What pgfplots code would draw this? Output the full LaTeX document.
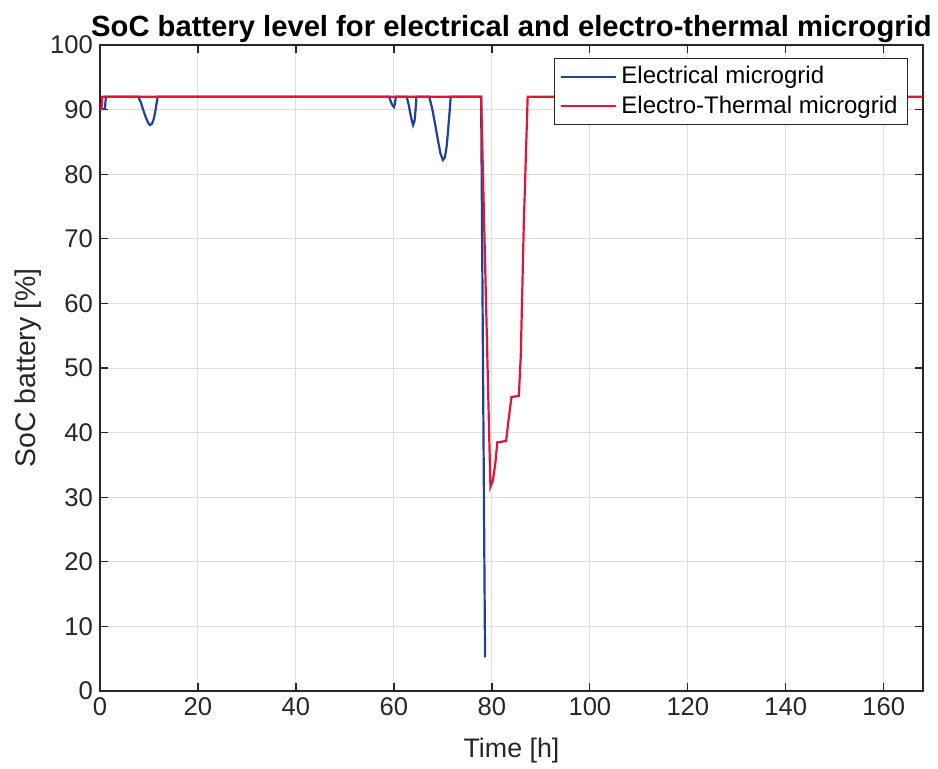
\documentclass[border=0pt]{standalone}
\usepackage{fontspec}
\setmainfont{Liberation Sans}
\usepackage{pgfplots}
\pgfplotsset{compat=1.18}

\definecolor{elecblue}{RGB}{33,64,154}
\definecolor{thermred}{RGB}{226,20,56}
\definecolor{axisgray}{RGB}{38,38,38}
\definecolor{gridgray}{RGB}{222,222,222}

\begin{document}
\begin{tikzpicture}
\useasboundingbox (-50pt,-38.5pt) rectangle (419pt,345.5pt);
\begin{axis}[
  at={(0,0)}, anchor=south west,
  scale only axis,
  width=411.5pt, height=323pt,
  xmin=0, xmax=168, ymin=0, ymax=100,
  xtick={0,20,...,160}, ytick={0,10,...,100},
  grid=major,
  major grid style={gridgray, line width=0.5pt},
  axis line style={axisgray, line width=0.6pt},
  tick style={axisgray, line width=0.6pt},
  tick align=inside,
  major tick length=4pt,
  /pgf/number format/assume math mode=true,
  ticklabel style={font=\fontsize{12.8}{15}\selectfont, text=axisgray},
  xlabel={Time [h]}, ylabel={SoC battery [\%]},
  xlabel style={font=\fontsize{13.4}{16}\selectfont, text=axisgray, yshift=-4pt},
  ylabel style={font=\fontsize{14.2}{16}\selectfont, text=axisgray, yshift=-2.5pt},
  title={SoC battery level for electrical and electro-thermal microgrid},
  title style={font=\bfseries\fontsize{14.6}{17}\selectfont, yshift=-8.5pt},
  legend style={at={(1,1)}, anchor=north east, xshift=-7.5pt, yshift=-6.5pt,
    font=\fontsize{12}{14}\selectfont, draw=axisgray, line width=0.5pt,
    inner xsep=3pt, inner ysep=2pt, row sep=0.5pt},
  legend cell align=left,
  legend image code/.code={\draw[#1] (0cm,0cm) -- (0.97cm,0cm);},
]
% Electrical microgrid
\addplot[elecblue, line width=1.1pt] coordinates {
  (0,90.1) (1.0,90.1) (1.2,92) (7.8,92)
  (8.3,91.2) (8.8,90.0) (9.3,88.9) (9.8,88.0) (10.2,87.6) (10.6,87.8)
  (11.0,88.6) (11.3,89.8) (11.6,91.2) (11.8,92)
  (59.0,92) (59.3,91.4) (59.6,90.8) (60.0,90.4) (60.2,90.9) (60.4,92)
  (62.6,92) (63.0,90.8) (63.5,88.8) (63.9,87.6) (64.2,88.2) (64.4,89.8) (64.6,92)
  (67.2,92) (67.8,90.2) (68.4,87.8) (69.0,85.2) (69.5,83.2) (70.0,82.2)
  (70.4,82.6) (70.8,84.5) (71.1,87.2) (71.4,90.0) (71.6,92)
  (77.8,92) (78.6,5.2)
};
\addlegendentry{Electrical microgrid}
% Electro-thermal microgrid
\addplot[thermred, line width=1.1pt] coordinates {
  (0,90.1) (0.3,90.1) (0.47,92) (77.8,92) (79.7,31.6) (80.2,32.6) (80.7,35.2)
  (81.1,38.5) (82.9,38.7) (83.4,42.0) (84.0,45.5) (85.5,45.7)
  (85.9,52) (86.5,72) (87.3,92) (168,92)
};
\addlegendentry{Electro-Thermal microgrid}
\end{axis}
\end{tikzpicture}
\end{document}
